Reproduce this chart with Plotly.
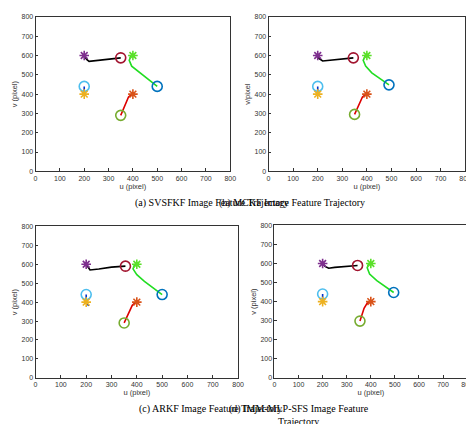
import plotly.graph_objects as go

captions = ["(a) SVSFKF Image Feature Trajectory", "(b) MCKF Image Feature Trajectory",
            "(c) ARKF Image Feature Trajectory", "(d) IMM-MLP-SFS Image Feature<br>Trajectory"]
ylabels = ["v (pixel)", "v/pixel", "v (pixel)", "v (pixel)"]
ticks = [0, 100, 200, 300, 400, 500, 600, 700, 800]

# target stars (same in all panels)
star_u = [200, 400, 200, 400]
star_v = [600, 600, 400, 400]
star_colors = ["#7E2F8E", "#5BE02A", "#EDB120", "#D95319"]
circle_colors = ["#A2142F", "#0072BD", "#4DBEEE", "#77AC30"]
line_colors = ["#000000", "#22DD22", "#0033CC", "#DD0000"]

# per-panel paths: [black, green, blue, red], each (u list, v list)
paths = [
    [([350, 300, 250, 220, 210, 200], [588, 582, 575, 570, 580, 600]),
     ([500, 470, 430, 395, 385, 390, 400], [440, 470, 510, 545, 575, 595, 600]),
     ([200, 200, 200], [440, 420, 400]),
     ([350, 360, 375, 382, 395, 400], [290, 320, 360, 385, 398, 400])],
    [([345, 300, 250, 220, 205, 200], [588, 582, 575, 572, 585, 600]),
     ([490, 460, 420, 395, 385, 392, 400], [448, 475, 510, 545, 575, 595, 600]),
     ([200, 200, 200], [440, 420, 400]),
     ([350, 360, 372, 382, 395, 400], [295, 325, 360, 385, 398, 400])],
    [([355, 300, 250, 215, 210, 200], [590, 585, 575, 570, 580, 600]),
     ([500, 470, 430, 400, 385, 390, 400], [440, 470, 510, 545, 575, 595, 600]),
     ([200, 200, 205, 210], [440, 410, 390, 380]),
     ([350, 360, 372, 382, 395, 400], [290, 320, 355, 383, 398, 400])],
    [([345, 300, 250, 225, 210, 200], [590, 586, 580, 575, 585, 600]),
     ([495, 465, 425, 395, 385, 390, 400], [448, 475, 510, 545, 578, 597, 600]),
     ([200, 200, 200], [440, 420, 400]),
     ([355, 362, 372, 385, 395, 400], [298, 330, 365, 392, 400, 400])],
]

xdom = [(26/474, 224/474), (263/474, 463/474), (26/474, 232/474), (269/474, 465/474)]
ydom = [(1-162/424, 1-5/424), (1-162/424, 1-5/424), (1-372/424, 1-218/424), (1-372/424, 1-217/424)]
cap_y = [194, 194, 404, 410]

fig = go.Figure()
for i in range(4):
    xa = "x" if i == 0 else f"x{i+1}"
    ya = "y" if i == 0 else f"y{i+1}"
    for k, (pu, pv) in enumerate(paths[i]):
        fig.add_trace(go.Scatter(x=pu, y=pv, mode="lines", line=dict(color=line_colors[k], width=1.6),
                                 xaxis=xa, yaxis=ya, showlegend=False))
        fig.add_trace(go.Scatter(x=[pu[0]], y=[pv[0]], mode="markers",
                                 marker=dict(symbol="circle-open", size=10, color=circle_colors[k], line=dict(width=1.6)),
                                 xaxis=xa, yaxis=ya, showlegend=False))
    fig.add_trace(go.Scatter(x=star_u, y=star_v, mode="markers",
                             marker=dict(symbol="asterisk-open", size=8, color=star_colors, line=dict(width=1.6, color=star_colors)),
                             xaxis=xa, yaxis=ya, showlegend=False))
    ax = dict(range=[0, 800], tickvals=ticks, showgrid=False, zeroline=False, showline=True, mirror=True,
              linecolor="#333", linewidth=0.8, ticks="inside", ticklen=3, tickcolor="#333",
              tickfont=dict(size=7, family="Liberation Sans", color="#333"))
    fig.layout[f"xaxis{'' if i==0 else i+1}"] = go.layout.XAxis(domain=xdom[i], anchor=ya, **ax,
        title=dict(text="u (pixel)", font=dict(size=7.5, family="Liberation Sans", color="#333"), standoff=2))
    fig.layout[f"yaxis{'' if i==0 else i+1}"] = go.layout.YAxis(domain=ydom[i], anchor=xa, **ax,
        title=dict(text=ylabels[i], font=dict(size=7.5, family="Liberation Sans", color="#333"), standoff=2))
    fig.add_annotation(text=captions[i], xref="paper", yref="paper", showarrow=False,
                       x=(xdom[i][0]+xdom[i][1])/2, y=1-cap_y[i]/424, yanchor="middle",
                       font=dict(size=10, family="Liberation Serif", color="#000"))

fig.update_layout(width=474, height=424, margin=dict(l=0, r=0, t=0, b=0),
                  paper_bgcolor="white", plot_bgcolor="white")
fig.write_html("out.html")
